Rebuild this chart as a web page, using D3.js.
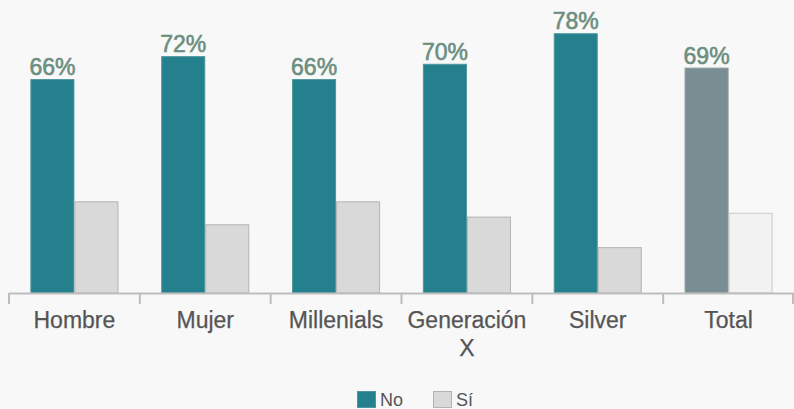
<!DOCTYPE html>
<html>
<head>
<meta charset="utf-8">
<script src="https://cdn.jsdelivr.net/npm/d3@7"></script>
<style>
  html, body { margin: 0; padding: 0; background: #f8f8f8; }
  svg { display: block; font-family: "Liberation Sans", Arial, sans-serif; }
</style>
</head>
<body>
<svg id="chart" width="794" height="409"></svg>
<script>
// Share of respondents answering "No" / "Sí" by segment (percent)
const categories = ["Hombre", "Mujer", "Millenials", "Generación X", "Silver", "Total"];
const seriesNames = ["No", "Sí"];
const noValues = [66, 72, 66, 70, 78, 69];
const siValues = [34, 28, 34, 30, 22, 31];

const svg = d3.select("#chart");
const baseY = 293;

const x0 = d3.scaleBand()
  .domain(categories)
  .range([9, 794])
  .paddingInner(0.327)
  .paddingOuter(0.1635);

const x1 = d3.scaleBand()
  .domain(seriesNames)
  .range([0, x0.bandwidth()]);

// value axis starts at 10%
const y = d3.scaleLinear()
  .domain([10, 80])
  .range([baseY, baseY - 70 * 3.82]);

const rows = categories.map((c, i) => ({
  cat: c,
  values: [
    { key: "No", value: noValues[i] },
    { key: "Sí", value: siValues[i] }
  ]
}));

function fillFor(cat, key) {
  if (cat === "Total") return key === "No" ? "#7a8d93" : "#f2f2f2";
  return key === "No" ? "#24808c" : "#d9d9d9";
}
function strokeFor(cat, key) {
  if (cat === "Total") return key === "No" ? "#8b9ca1" : "#c9c9c9";
  return key === "No" ? "#4d959f" : "#b3b3b3";
}

const groups = svg.append("g").selectAll("g")
  .data(rows)
  .join("g")
  .attr("transform", d => `translate(${x0(d.cat)},0)`);

groups.selectAll("rect")
  .data(d => d.values.map(v => ({ ...v, cat: d.cat })))
  .join("rect")
  .attr("x", d => x1(d.key) + 0.5)
  .attr("y", d => y(d.value) + 0.5)
  .attr("width", x1.bandwidth() - 1)
  .attr("height", d => baseY - y(d.value) - 0.5)
  .attr("fill", d => fillFor(d.cat, d.key))
  .attr("stroke", d => strokeFor(d.cat, d.key))
  .attr("stroke-width", 1);

// value labels above the "No" bars
groups.append("text")
  .attr("x", x1("No") + x1.bandwidth() / 2)
  .attr("y", d => y(d.values[0].value) - 4)
  .attr("text-anchor", "middle")
  .attr("font-size", 23)
  .attr("fill", "#6b8f80")
  .attr("stroke", "#6b8f80")
  .attr("stroke-width", 0.6)
  .text(d => d.values[0].value + "%");

// category axis with ticks at band boundaries
const axisG = svg.append("g");
axisG.append("line")
  .attr("x1", 9).attr("x2", 794)
  .attr("y1", baseY + 0.5).attr("y2", baseY + 0.5)
  .attr("stroke", "#bdbdbd").attr("stroke-width", 2);

const step = x0.step();
const boundaries = d3.range(categories.length + 1).map(i => 9 + i * step);
axisG.selectAll("line.tick")
  .data(boundaries)
  .join("line")
  .attr("class", "tick")
  .attr("x1", d => Math.min(d, 793)).attr("x2", d => Math.min(d, 793))
  .attr("y1", baseY).attr("y2", baseY + 11)
  .attr("stroke", "#bdbdbd").attr("stroke-width", 2);

const catLabels = axisG.selectAll("text.cat")
  .data(categories)
  .join("text")
  .attr("class", "cat")
  .attr("text-anchor", "middle")
  .attr("font-size", 23)
  .attr("fill", "#555555")
  .attr("stroke", "#555555")
  .attr("stroke-width", 0.25)
  .attr("transform", d => `translate(${x0(d) + x0.bandwidth() / 2},328)`);

catLabels.each(function(d) {
  const words = d === "Generación X" ? ["Generación", "X"] : [d];
  d3.select(this).selectAll("tspan")
    .data(words)
    .join("tspan")
    .attr("x", 0)
    .attr("dy", (w, i) => i === 0 ? 0 : 28)
    .text(w => w);
});

// legend
const legend = svg.append("g");
const legendItems = [
  { key: "No", x: 357 },
  { key: "Sí", x: 433 }
];
legendItems.forEach(item => {
  legend.append("rect")
    .attr("x", item.x + 0.5).attr("y", 391.5)
    .attr("width", 18).attr("height", 16)
    .attr("fill", fillFor("", item.key))
    .attr("stroke", strokeFor("", item.key));
  legend.append("text")
    .attr("x", item.x + 23).attr("y", 406)
    .attr("font-size", 18)
    .attr("fill", "#555555")
    .text(item.key);
});
</script>
</body>
</html>
